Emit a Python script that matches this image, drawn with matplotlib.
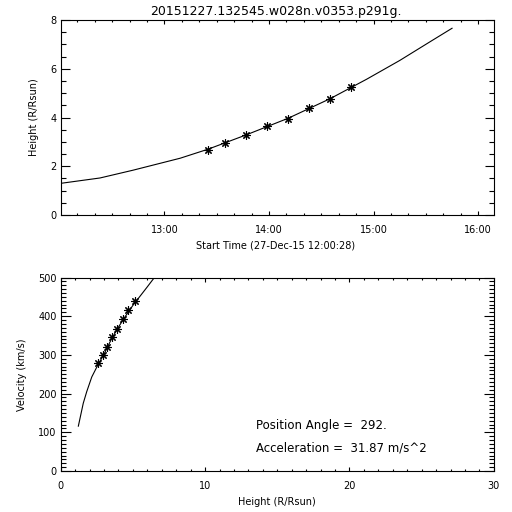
import matplotlib
matplotlib.use("Agg")
import matplotlib.pyplot as plt
from matplotlib.ticker import FixedLocator, MultipleLocator

# height-time measurements (LASCO frames)
obs_times = ["13:25", "13:35", "13:47", "13:59", "14:11", "14:23", "14:35", "14:47"]
obs_height = [2.67, 2.94, 3.28, 3.65, 3.94, 4.38, 4.76, 5.25]

# fitted height-time curve
fit_times = ["12:00:28", "12:23", "12:42", "13:09", "13:25", "13:47",
             "14:11", "14:35", "14:56", "15:15", "15:32", "15:45"]
fit_height = [1.30, 1.52, 1.84, 2.33, 2.70, 3.29, 3.97, 4.77, 5.57, 6.34, 7.09, 7.66]

# velocity vs height
vel_height = [2.60, 2.91, 3.23, 3.57, 3.92, 4.31, 4.66, 5.17]
velocity = [278, 299, 321, 346, 368, 392, 415, 439]

vfit_height = [1.22, 1.56, 1.80, 2.15, 2.60, 3.00, 3.50, 4.00, 4.50, 5.00, 5.50, 6.00, 6.55]
vfit_velocity = [116, 175, 205, 243, 276, 302, 340, 372, 401, 428, 452, 476, 503]

time_ticks = [1, 2, 3, 4]
time_labels = ["13:00", "14:00", "15:00", "16:00"]

title = "20151227.132545.w028n.v0353.p291g."
pos_angle = "292."
accel = "31.87"


def to_hours(s):
    parts = [float(p) for p in s.split(":")]
    while len(parts) < 3:
        parts.append(0.0)
    return parts[0] - 12 + parts[1] / 60 + parts[2] / 3600


def style_axes(ax, xmaj_len, ymaj_len):
    for sp in ax.spines.values():
        sp.set_linewidth(0.8)
    ax.tick_params(which="both", direction="in", top=True, right=True,
                   labelsize=7, width=0.8)
    ax.tick_params(axis="x", which="major", length=xmaj_len, pad=7)
    ax.tick_params(axis="x", which="minor", length=xmaj_len / 2)
    ax.tick_params(axis="y", which="major", length=ymaj_len, pad=3)
    ax.tick_params(axis="y", which="minor", length=ymaj_len / 2)


asterisk = (8, 2, 0)

fig = plt.figure(figsize=(5.12, 5.12), dpi=100)
fig.text(276 / 512, 1 - 12 / 512, title, ha="center", va="center", fontsize=9)

# top panel: height vs time
ax1 = fig.add_axes([0.1186, 0.580, 0.846, 0.381])
t_obs = [to_hours(t) for t in obs_times]
t_fit = [to_hours(t) for t in fit_times]
ax1.plot(t_fit, fit_height, color="black", lw=0.8)
ax1.plot(t_obs, obs_height, ls="none", marker=asterisk, ms=6, mew=0.8,
         color="black")
ax1.set_xlim(to_hours("12:00:28"), 4.15)
ax1.set_ylim(0, 8)
ax1.xaxis.set_major_locator(FixedLocator(time_ticks))
ax1.set_xticklabels(time_labels)
ax1.xaxis.set_minor_locator(MultipleLocator(1 / 6))
ax1.yaxis.set_major_locator(MultipleLocator(2))
ax1.yaxis.set_minor_locator(MultipleLocator(0.5))
style_axes(ax1, 3.2, 6.5)
ax1.set_xlabel("Start Time (27-Dec-15 12:00:28)", fontsize=7)
ax1.set_ylabel("Height (R/Rsun)", fontsize=7)
ax1.xaxis.set_label_coords(0.497, -0.128)
ax1.yaxis.set_label_coords(-0.05, 0.5)

# bottom panel: velocity vs height
ax2 = fig.add_axes([0.1186, 0.080, 0.846, 0.378])
ax2.plot(vfit_height, vfit_velocity, color="black", lw=0.8)
ax2.plot(vel_height, velocity, ls="none", marker=asterisk, ms=6, mew=0.8,
         color="black")
ax2.set_xlim(0, 30)
ax2.set_ylim(0, 500)
ax2.xaxis.set_major_locator(MultipleLocator(10))
ax2.xaxis.set_minor_locator(MultipleLocator(1))
ax2.yaxis.set_major_locator(MultipleLocator(100))
ax2.yaxis.set_minor_locator(MultipleLocator(10))
style_axes(ax2, 3.2, 7)
ax2.set_xlabel("Height (R/Rsun)", fontsize=7)
ax2.set_ylabel("Velocity (km/s)", fontsize=7)
ax2.xaxis.set_label_coords(0.50, -0.136)
ax2.yaxis.set_label_coords(-0.078, 0.5)

ax2.text(13.5, 117, "Position Angle =  " + pos_angle, fontsize=8.5, va="center")
ax2.text(13.5, 60, "Acceleration =  " + accel + " m/s^2", fontsize=8.5, va="center")

fig.savefig("out.png", dpi=100)
